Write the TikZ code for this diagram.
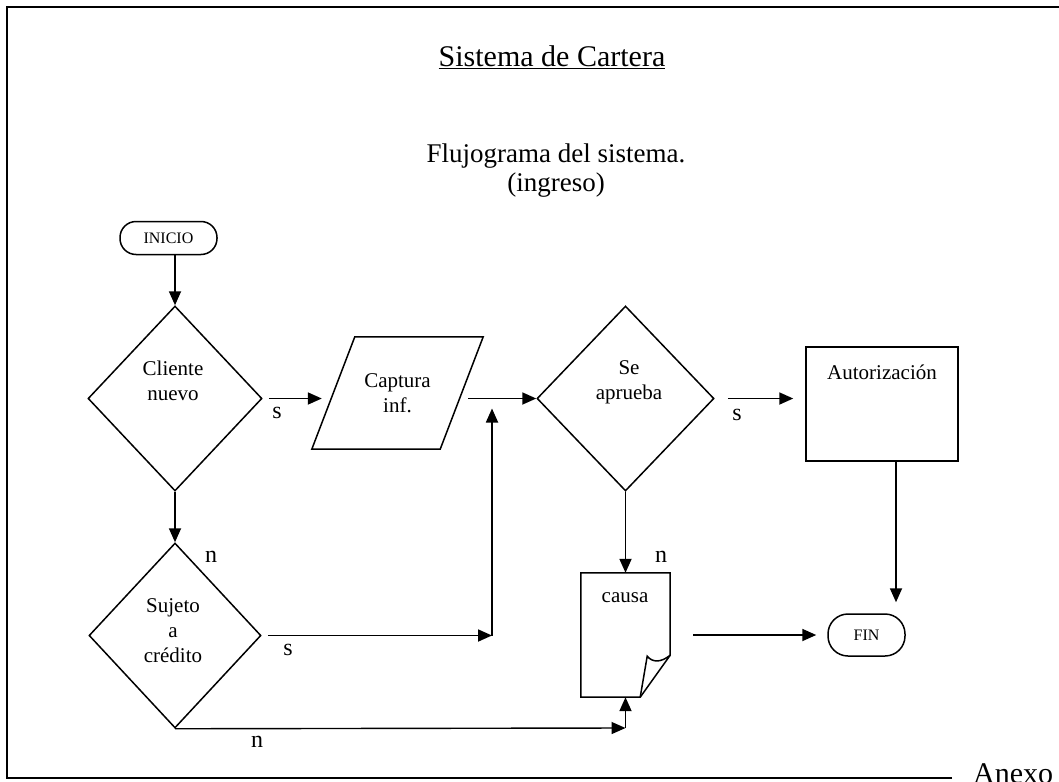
\documentclass[tikz,border=0pt]{standalone}
\usepackage{fontspec}
\setmainfont{Liberation Serif}
\usetikzlibrary{shapes.geometric,arrows.meta}
\begin{document}
\begin{tikzpicture}[x=1pt,y=-1pt,
  shape line/.style={line width=1.5pt},
  decision/.style={draw, diamond, shape line, inner sep=0pt,
    minimum width=174pt, minimum height=185pt},
  terminal/.style={draw, rectangle, shape line, inner sep=0pt, rounded corners=16pt},
  txt/.style={font=\fontsize{21}{25}\selectfont, align=center, inner sep=0pt},
  small/.style={font=\fontsize{16}{18}\selectfont, inner sep=0pt},
  lbl/.style={font=\fontsize{24}{28}\selectfont, inner sep=0pt},
  arr/.style={-{Triangle[length=14pt,width=12pt]}, line width=1.8pt},
  frame/.style={line width=2.2pt}
]
\useasboundingbox (0,0) rectangle (1059,781);

% page frame
\draw[frame] (952,778) -- (7,778) -- (7,7) -- (1070,7);
\node[anchor=north west, inner sep=0pt, font=\fontsize{30}{32}\selectfont] (anexo) at (973,763) {Anexo};

% headings
\node[inner sep=0pt, font=\fontsize{30}{34}\selectfont] (title) at (552,57) {\underline{Sistema de Cartera}};
\node[inner sep=0pt, align=center, font=\fontsize{27}{29}\selectfont] (subtitle) at (556,171) {Flujograma del sistema.\\(ingreso)};

% nodes
\node[terminal, minimum width=97pt, minimum height=33pt] (ini) at (168.5,238) {};
\node[small] (init) at (ini.center) {INICIO};

\node[decision] (d1) at (175,398.5) {};
\node[txt] (d1t) at (173,381) {Cliente\\nuevo};

\node[minimum width=128pt, minimum height=112pt, inner sep=0pt, txt] (cap) at (397.5,393) {Captura\\inf.};
\draw[shape line] ([xshift=21.5pt]cap.north west) -- ([xshift=21.5pt]cap.north east)
  -- ([xshift=-21.5pt]cap.south east) -- ([xshift=-21.5pt]cap.south west) -- cycle;

\node[decision, minimum width=177pt] (d2) at (625.5,398.5) {};
\node[txt] (d2t) at (629,382) {Se\\aprueba};

\node[draw, shape line, rectangle, minimum width=152pt, minimum height=114pt, inner sep=0pt] (auto) at (882,404) {};
\node[txt] (autot) at (882,372) {Autorización};

\node[decision, minimum width=172pt] (d3) at (175,635.5) {};
\node[txt] (d3t) at (173,631) {Sujeto\\a\\crédito};

\node[minimum width=89pt, minimum height=124pt, inner sep=0pt] (doc) at (625.5,635) {};
\draw[shape line] (doc.north west) -- (doc.north east) -- ([yshift=42pt]doc.south east)
  -- ([xshift=-30pt]doc.south east) -- (doc.south west) -- cycle;
\draw[shape line] ([yshift=42pt]doc.south east)
  .. controls ([xshift=-10pt,yshift=34pt]doc.south east) and ([xshift=-18pt,yshift=35pt]doc.south east)
  .. ([xshift=-23pt,yshift=41pt]doc.south east) -- ([xshift=-30pt]doc.south east);
\node[txt] (doct) at (625,598) {causa};

\node[terminal, minimum width=77pt, minimum height=42pt, rounded corners=20pt] (fin) at (866.5,635) {};
\node[small] (fint) at (fin.center) {FIN};

% junction points
\coordinate (j1) at (492,635.5);
\coordinate (j2) at (625.5,728);

% connectors
\draw[arr] (ini.south -| d1.north) -- (d1.north);
\draw[arr] (d1.south) -- (d3.north);
\draw[arr, shorten <=6pt, shorten >=11.5pt] (d1.east) -- (d1.east -| cap.west);
\draw[arr, shorten <=6.5pt] (cap.east |- d2.west) -- (d2.west);
\draw[arr, shorten <=6pt] (d3.east) -- (j1);
\draw[arr, shorten >=10pt] (j1) -- (j1 |- d2.west);
\draw[arr, shorten <=13pt, shorten >=12pt] (d2.east) -- (d2.east -| auto.west);
\draw[arr] (d2.south) -- (d2.south |- doc.north);
\draw[arr, shorten >=11pt] ([xshift=14pt]auto.south) -- ([xshift=14pt]auto.south |- fin.north);
\draw[arr, shorten <=23pt, shorten >=11pt] (doc.east) -- (fin.west);
\draw[arr, line width=1.4pt] (d3.south) -- (j2);
\draw[arr] (j2) -- (doc.south);

% branch labels
\node[lbl] (s1) at (277,413) {s};
\node[lbl] (s2) at (288,650) {s};
\node[lbl] (s3) at (737,415) {s};
\node[lbl] (n1) at (211,557) {n};
\node[lbl] (n2) at (661,557) {n};
\node[lbl] (n3) at (257,742) {n};
\end{tikzpicture}
\end{document}
